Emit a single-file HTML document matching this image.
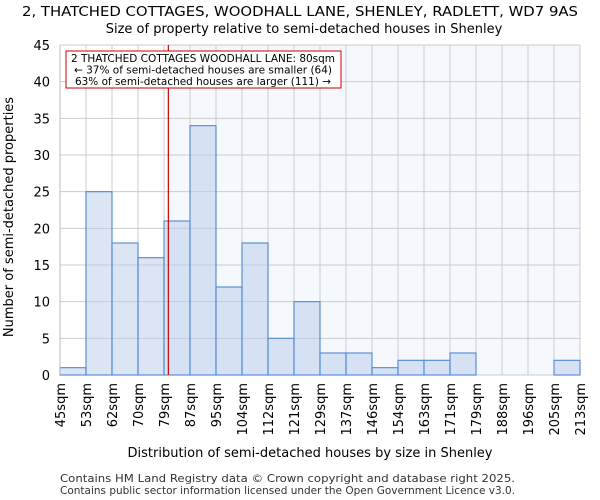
<!DOCTYPE html>
<html><head><meta charset="utf-8"><style>body{margin:0;background:#fff}svg{display:block;font-family:"DejaVu Sans","Liberation Sans",sans-serif}</style></head>
<body>
<svg id="chart" width="600" height="500">
<text x="300" y="16" text-anchor="middle" font-size="13" textLength="556" lengthAdjust="spacingAndGlyphs">2, THATCHED COTTAGES, WOODHALL LANE, SHENLEY, RADLETT, WD7 9AS</text>
<text x="304" y="33" text-anchor="middle" font-size="13">Size of property relative to semi-detached houses in Shenley</text>
<g id="plot"></g>
<text x="310" y="457" text-anchor="middle" font-size="13">Distribution of semi-detached houses by size in Shenley</text>
<text transform="translate(13,217) rotate(-90)" text-anchor="middle" font-size="13">Number of semi-detached properties</text>
<text x="60" y="482" font-size="11" textLength="455" lengthAdjust="spacingAndGlyphs" fill="#333">Contains HM Land Registry data © Crown copyright and database right 2025.</text>
<text x="60" y="494" font-size="11" textLength="455" lengthAdjust="spacingAndGlyphs" fill="#333">Contains public sector information licensed under the Open Government Licence v3.0.</text>
</svg>
<script>
const binLabels=["45sqm","53sqm","62sqm","70sqm","79sqm","87sqm","95sqm","104sqm","112sqm","121sqm","129sqm","137sqm","146sqm","154sqm","163sqm","171sqm","179sqm","188sqm","196sqm","205sqm","213sqm"];
const binEdges=[45,53,62,70,79,87,95,104,112,121,129,137,146,154,163,171,179,188,196,205,213];
const counts=[1,25,18,16,21,34,12,18,5,10,3,3,1,2,2,3,0,0,0,2];
const yTicks=[0,5,10,15,20,25,30,35,40,45];
const propertySize=80;
const X0=60,X1=580,Y0=375,Y1=45,yMax=45;
const NS="http://www.w3.org/2000/svg";
const g=document.getElementById('plot');
const nb=counts.length,bw=(X1-X0)/nb;
const xi=i=>X0+i*bw;
const y=v=>Y0-(v/yMax)*(Y0-Y1);
const xv=v=>X0+(v-binEdges[0])/(binEdges[binEdges.length-1]-binEdges[0])*(X1-X0);
function mk(t,a){const e=document.createElementNS(NS,t);for(const k in a)e.setAttribute(k,a[k]);g.appendChild(e);return e;}
const px=xv(propertySize);
let e=mk('rect',{x:px,y:Y1,width:X1-px,height:Y0-Y1,fill:'#f5f8fd'});


yTicks.forEach(t=>{
 let l=mk('line',{x1:X0,x2:X1,y1:y(t),y2:y(t),stroke:'#cccccc'});
 
 
 let tx=mk('text',{x:X0-10,y:y(t)+5,'text-anchor':'end','font-size':'13'});tx.textContent=t;
 
 
});
binLabels.forEach((lab,i)=>{
 let l=mk('line',{x1:xi(i),x2:xi(i),y1:Y1,y2:Y0,stroke:'#cccccc'});
 
 
 let tx=mk('text',{transform:`translate(${xi(i)+5},${Y0+8}) rotate(-90)`,'text-anchor':'end','font-size':'13'});tx.textContent=lab;
 
 
});
counts.forEach((c,i)=>{
 if(c<=0)return;
 let r=mk('rect',{x:xi(i),y:y(c),width:bw,height:Y0-y(c),fill:'rgba(183,203,234,0.5)',stroke:'#5b8fd6','stroke-width':1.2});
 
 
});
let ax=mk('line',{x1:X0,x2:X0,y1:Y1,y2:Y0,stroke:'#bbbbbb'});


let rl=mk('line',{x1:px,x2:px,y1:Y1,y2:Y0,stroke:'#cc0000','stroke-width':1.2});


let bx=mk('rect',{x:66,y:51,width:275,height:37,fill:'#fff',stroke:'#cc0000','stroke-width':1});


[["2 THATCHED COTTAGES WOODHALL LANE: 80sqm",264],["← 37% of semi-detached houses are smaller (64)",258],["63% of semi-detached houses are larger (111) →",256]].forEach((s,i)=>{
 let t=mk('text',{x:203,y:62+i*11.5,'text-anchor':'middle','font-size':'10.5',textLength:s[1],lengthAdjust:'spacingAndGlyphs'});t.textContent=s[0];
 
 
});
</script>
</body></html>
